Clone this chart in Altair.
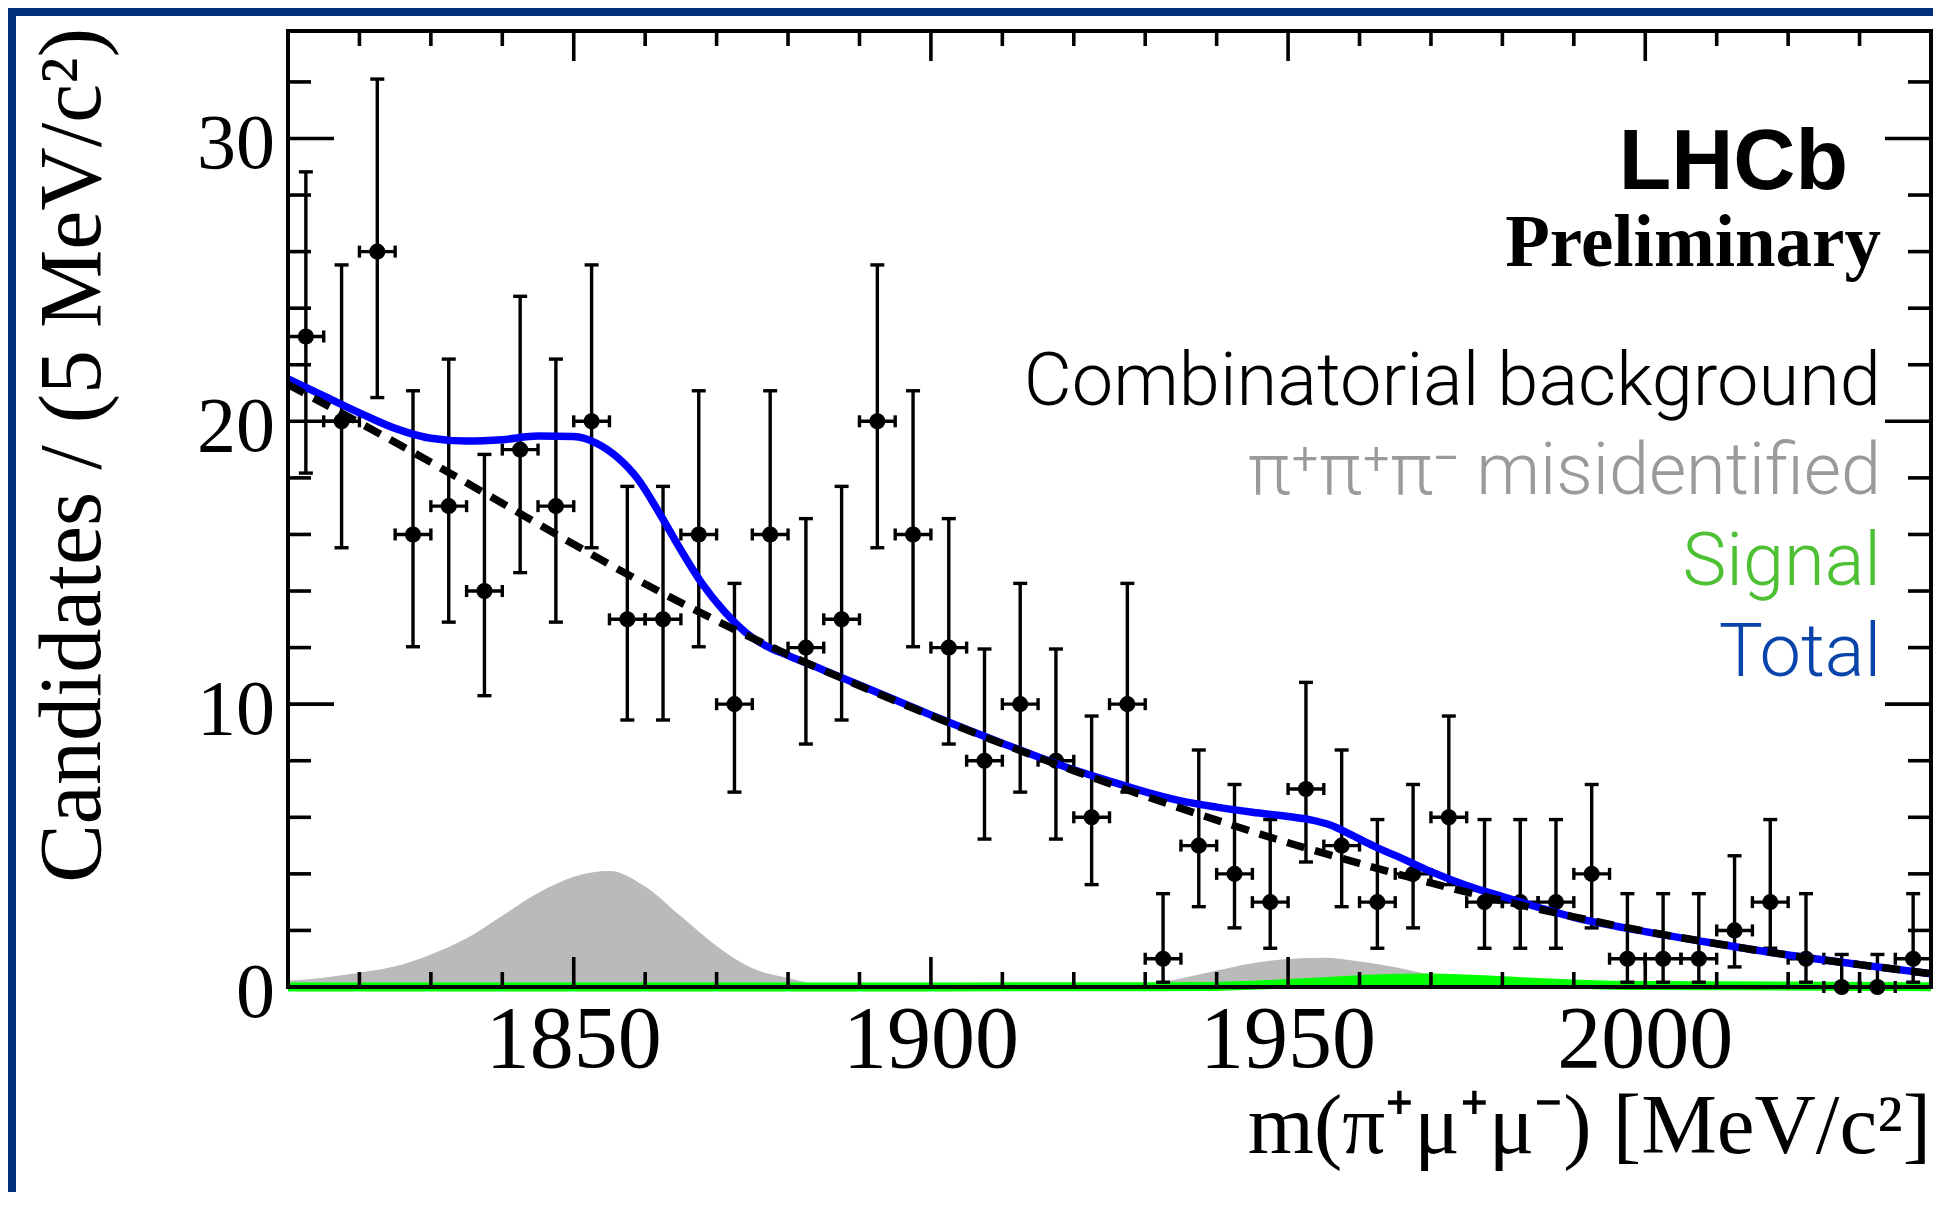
import altair as alt
import pandas as pd

# ---------------- data ----------------
X_LO, X_HI = 1810, 2040
Y_LO, Y_HI = 0, 33.8
HALF_BIN = 2.5

BIN_CENTERS = [1812.5, 1817.5, 1822.5, 1827.5, 1832.5, 1837.5, 1842.5, 1847.5,
               1852.5, 1857.5, 1862.5, 1867.5, 1872.5, 1877.5, 1882.5, 1887.5,
               1892.5, 1897.5, 1902.5, 1907.5, 1912.5, 1917.5, 1922.5, 1927.5,
               1932.5, 1937.5, 1942.5, 1947.5, 1952.5, 1957.5, 1962.5, 1967.5,
               1972.5, 1977.5, 1982.5, 1987.5, 1992.5, 1997.5, 2002.5, 2007.5,
               2012.5, 2017.5, 2022.5, 2027.5, 2032.5, 2037.5]
COUNTS = [23, 20, 26, 16, 17, 14, 19, 17, 20, 13, 13, 16, 10, 16, 12, 13,
          20, 16, 12, 8, 10, 8, 6, 10, 1, 5, 4, 3, 7, 5, 3, 4,
          6, 3, 3, 3, 4, 1, 1, 1, 2, 3, 1, 0, 0, 1]
ERR_LO = [18.17, 15.53, 20.84, 12.03, 12.90, 10.30, 14.65, 12.90, 15.53, 9.44,
          9.44, 12.03, 6.89, 12.03, 8.59, 9.44, 15.53, 12.03, 8.59, 5.23,
          6.89, 5.23, 3.62, 6.89, 0.17, 2.84, 2.09, 1.37, 4.42, 2.84,
          1.37, 2.09, 3.62, 1.37, 1.37, 1.37, 2.09, 0.17, 0.17, 0.17,
          0.71, 1.37, 0.17, 0.00, 0.00, 0.17]
ERR_HI = [28.82, 25.53, 32.10, 21.08, 22.20, 18.83, 24.42, 22.20, 25.53, 17.70,
          17.70, 21.08, 14.27, 21.08, 16.56, 17.70, 25.53, 21.08, 16.56, 11.95,
          14.27, 11.95, 9.58, 14.27, 3.30, 8.38, 7.16, 5.92, 10.77, 8.38,
          5.92, 7.16, 9.58, 5.92, 5.92, 5.92, 7.16, 3.30, 3.30, 3.30,
          4.64, 5.92, 3.30, 1.15, 1.15, 3.30]

COMB_M = [1810, 1820, 1830, 1840, 1850, 1860, 1870, 1880, 1890, 1900, 1910, 1920,
          1930, 1940, 1950, 1960, 1970, 1980, 1990, 2000, 2010, 2020, 2030, 2040]
COMB_V = [21.3, 19.95, 18.55, 17.1, 15.65, 14.25, 12.95, 11.75, 10.65, 9.6, 8.6, 7.65,
          6.75, 5.9, 5.1, 4.37, 3.68, 3.05, 2.48, 1.97, 1.53, 1.13, 0.79, 0.47]

TOTAL_M = [1810, 1815, 1820, 1825, 1830, 1835, 1840, 1845, 1850, 1853, 1856, 1859,
           1862, 1865, 1868, 1871, 1874, 1877, 1880, 1885, 1890, 1900, 1910, 1920,
           1925, 1930, 1935, 1940, 1945, 1950, 1953, 1956, 1959, 1962, 1966, 1970,
           1975, 1980, 1985, 1990, 2000, 2010, 2020, 2030, 2040]
TOTAL_V = [21.5, 20.9, 20.3, 19.75, 19.4, 19.3, 19.35, 19.48, 19.46, 19.25, 18.75, 17.95,
           16.75, 15.45, 14.25, 13.3, 12.55, 12.05, 11.72, 11.2, 10.68, 9.62, 8.62, 7.68,
           7.28, 6.9, 6.58, 6.36, 6.18, 6.03, 5.92, 5.72, 5.36, 4.98, 4.54, 4.08,
           3.59, 3.2, 2.82, 2.46, 1.96, 1.53, 1.13, 0.79, 0.47]

MISID_M = [1810, 1815, 1820, 1825, 1830, 1835, 1840, 1845, 1850, 1855, 1860, 1865,
           1870, 1875, 1880, 1885, 1890, 1925, 1930, 1935, 1940, 1945, 1950, 1955,
           1960, 1965, 1970, 1975, 1980, 2040]
MISID_V = [0.22, 0.33, 0.5, 0.73, 1.15, 1.72, 2.52, 3.32, 3.9, 4.1, 3.55, 2.5,
           1.45, 0.66, 0.32, 0.06, 0.0, 0.0, 0.08, 0.3, 0.58, 0.84, 0.99, 1.03,
           0.9, 0.7, 0.42, 0.08, 0.0, 0.0]

SIG_M = [1810, 1900, 1940, 1945, 1950, 1955, 1960, 1965, 1970, 1975, 1980, 1985,
         1990, 2000, 2040]
SIG_V = [0.0, 0.0, 0.02, 0.06, 0.12, 0.19, 0.26, 0.31, 0.32, 0.28, 0.22, 0.16,
         0.11, 0.05, 0.01]

X_MAJOR = [1850, 1900, 1950, 2000]
X_MINOR = [1820, 1830, 1840, 1860, 1870, 1880, 1890, 1910, 1920, 1930, 1940,
           1960, 1970, 1980, 1990, 2010, 2020, 2030]
Y_MAJOR = [10, 20, 30]
Y_MINOR = [2, 4, 6, 8, 12, 14, 16, 18, 22, 24, 26, 28, 32]
X_LABELS = [1850, 1900, 1950, 2000]
Y_LABELS = [0, 10, 20, 30]

X_TITLE = "m(π⁺μ⁺μ⁻) [MeV/c²]"
Y_TITLE = "Candidates / (5 MeV/c²)"

# ---------------- layout / style ----------------
W, H = 1643, 956
SERIF = "Liberation Serif"
SANS = "Liberation Sans"
LIGHT = "Roboto"
FRAME_BLUE = "#00307a"

df = pd.DataFrame({"m": BIN_CENTERS, "n": COUNTS, "lo": ERR_LO, "hi": ERR_HI})
df["ml"] = df["m"] - HALF_BIN
df["mr"] = df["m"] + HALF_BIN
comb = pd.DataFrame({"m": COMB_M, "v": COMB_V})
total = pd.DataFrame({"m": TOTAL_M, "v": TOTAL_V})
misid = pd.DataFrame({"m": MISID_M, "v": MISID_V})
sig = pd.DataFrame({"m": SIG_M, "v": SIG_V})
one = pd.DataFrame({"k": [0]})

xs = alt.Scale(domain=[X_LO, X_HI], nice=False, zero=False)
ys = alt.Scale(domain=[Y_LO, Y_HI], nice=False, zero=False)


def X(f):
    return alt.X(f, type="quantitative", scale=xs, axis=None)


def Y(f):
    return alt.Y(f, type="quantitative", scale=ys, axis=None)


layers = []

# decorative slide frame strips
layers.append(alt.Chart(one).mark_rect(color=FRAME_BLUE).encode(
    x=alt.value(-300), x2=alt.value(W + 20), y=alt.value(-40), y2=alt.value(-15)))
layers.append(alt.Chart(one).mark_rect(color=FRAME_BLUE).encode(
    x=alt.value(-300), x2=alt.value(-272), y=alt.value(-40), y2=alt.value(H + 260)))

# misidentified background
layers.append(alt.Chart(misid).mark_area(color="#bababa", interpolate="monotone").encode(
    x=X("m"), y=Y("v"), y2=alt.datum(0)))

# signal
layers.append(alt.Chart(sig).mark_area(color="#00ff00", interpolate="monotone").encode(
    x=X("m"), y=Y("v"), y2=alt.datum(0)))
layers.append(alt.Chart(sig).mark_line(color="#00ff00", strokeWidth=9,
                                       interpolate="monotone").encode(x=X("m"), y=Y("v")))

# data with errors
EB = 3.4
layers.append(alt.Chart(df).mark_rule(color="black", strokeWidth=EB).encode(
    x=X("m"), y=Y("lo"), y2="hi"))
layers.append(alt.Chart(df).mark_tick(orient="horizontal", color="black", size=14,
                                      thickness=EB, opacity=1).encode(x=X("m"), y=Y("lo")))
layers.append(alt.Chart(df).mark_tick(orient="horizontal", color="black", size=14,
                                      thickness=EB, opacity=1).encode(x=X("m"), y=Y("hi")))
layers.append(alt.Chart(df).mark_rule(color="black", strokeWidth=EB).encode(
    x=X("ml"), x2="mr", y=Y("n")))
layers.append(alt.Chart(df).mark_tick(orient="vertical", color="black", size=12,
                                      thickness=EB, opacity=1).encode(x=X("ml"), y=Y("n")))
layers.append(alt.Chart(df).mark_tick(orient="vertical", color="black", size=12,
                                      thickness=EB, opacity=1).encode(x=X("mr"), y=Y("n")))
layers.append(alt.Chart(df).mark_circle(color="black", size=260, opacity=1).encode(
    x=X("m"), y=Y("n")))

# total and combinatorial
layers.append(alt.Chart(total).mark_line(color="#0000ff", strokeWidth=7.5,
                                         interpolate="monotone").encode(x=X("m"), y=Y("v")))
layers.append(alt.Chart(comb).mark_line(color="black", strokeWidth=7.5, strokeDash=[18, 11],
                                        interpolate="monotone").encode(x=X("m"), y=Y("v")))

# inward ticks on all four sides
TW = 3.6
xmaj = pd.DataFrame({"t": X_MAJOR})
xmin = pd.DataFrame({"t": X_MINOR})
ymaj = pd.DataFrame({"t": Y_MAJOR})
ymin = pd.DataFrame({"t": Y_MINOR})
for d, L in ((xmaj, 30), (xmin, 15)):
    layers.append(alt.Chart(d).mark_rule(color="black", strokeWidth=TW).encode(
        x=X("t"), y=alt.value(H), y2=alt.value(H - L)))
    layers.append(alt.Chart(d).mark_rule(color="black", strokeWidth=TW).encode(
        x=X("t"), y=alt.value(0), y2=alt.value(L)))
for d, L in ((ymaj, 46), (ymin, 23)):
    layers.append(alt.Chart(d).mark_rule(color="black", strokeWidth=TW).encode(
        y=Y("t"), x=alt.value(0), x2=alt.value(L)))
    layers.append(alt.Chart(d).mark_rule(color="black", strokeWidth=TW).encode(
        y=Y("t"), x=alt.value(W), x2=alt.value(W - L)))

# frame
layers.append(alt.Chart(one).mark_rect(filled=False, stroke="black", strokeWidth=4).encode(
    x=alt.value(0), x2=alt.value(W), y=alt.value(0), y2=alt.value(H)))

# tick labels (positioned through the scales)
xlab = pd.DataFrame({"t": X_LABELS})
ylab = pd.DataFrame({"t": Y_LABELS})
layers.append(alt.Chart(xlab).mark_text(
    font=SERIF, fontSize=88, color="black", align="center", baseline="alphabetic").encode(
    x=X("t"), y=alt.value(H + 80), text=alt.Text("t:Q", format="d")))
layers.append(alt.Chart(ylab).mark_text(
    font=SERIF, fontSize=78, color="black", align="right", baseline="alphabetic", dy=30).encode(
    y=Y("t"), x=alt.value(-13), text=alt.Text("t:Q", format="d")))

# axis titles
layers.append(alt.Chart(one).mark_text(
    text=X_TITLE, font=SERIF, fontSize=85, color="black", align="right",
    baseline="alphabetic").encode(x=alt.value(W), y=alt.value(H + 166)))
layers.append(alt.Chart(one).mark_text(
    text=Y_TITLE, font=SERIF, fontSize=88, color="black", align="right",
    baseline="alphabetic", angle=270).encode(x=alt.value(-188), y=alt.value(-3)))


# annotations
def label(text, xpx, ypx, font, size, color, weight="normal"):
    return alt.Chart(one).mark_text(
        text=text, font=font, fontSize=size, fontWeight=weight, color=color,
        align="right", baseline="alphabetic").encode(x=alt.value(xpx), y=alt.value(ypx))


layers.append(label("LHCb", 1560, 158, SANS, 86, "black", "bold"))
layers.append(label("Preliminary", 1593, 235, SERIF, 73, "black", "bold"))
layers.append(label("Combinatorial background", 1593, 374, LIGHT, 74, "black", 300))
layers.append(label("π⁺π⁺π⁻ misidentified", 1593, 463, LIGHT, 72, "#9a9a9a", 300))
layers.append(label("Signal", 1593, 554, LIGHT, 74, "#4ec034", 300))
layers.append(label("Total", 1593, 645, LIGHT, 74, "#0844aa", 300))

chart = alt.layer(*layers).properties(
    width=W, height=H,
    autosize=alt.AutoSizeParams(type="none"),
    padding={"left": 280, "top": 23, "right": 2, "bottom": 205},
    background="white",
).configure_view(strokeWidth=0)

chart.save("out.html", embed_options={"renderer": "svg", "actions": False})
